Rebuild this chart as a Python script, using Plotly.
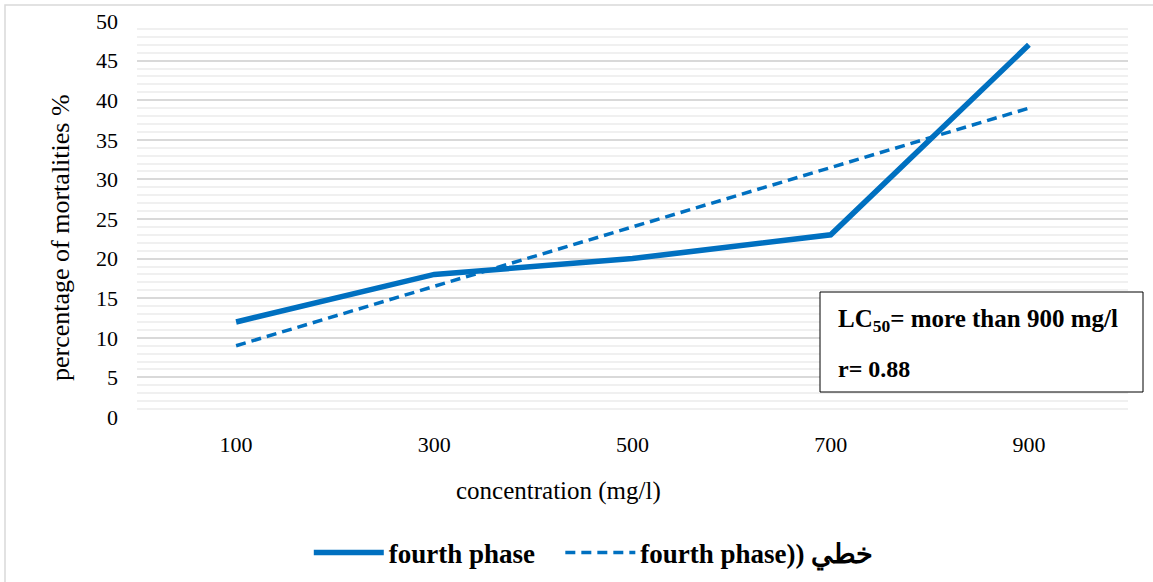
import plotly.graph_objects as go

categories = ["100", "300", "500", "700", "900"]
mortality = [12, 18, 20, 23, 47]
trend = [9, 16.5, 24, 31.5, 39]
y_ticks = [0, 5, 10, 15, 20, 25, 30, 35, 40, 45, 50]

BLUE = "#0070C0"
FONT = "Liberation Serif"

fig = go.Figure()
fig.add_trace(go.Scatter(
    x=categories, y=mortality, mode="lines", name="<b>fourth phase</b>\u00a0\u00a0\u00a0",
    line=dict(color=BLUE, width=5.5)))
fig.add_trace(go.Scatter(
    x=categories, y=trend, mode="lines", name="<b>fourth phase)) خطي</b>",
    line=dict(color=BLUE, width=3.5, dash="10px,6px")))

fig.update_layout(
    width=1153, height=582,
    margin=dict(l=137, r=25, t=21, b=165, autoexpand=False),
    paper_bgcolor="white", plot_bgcolor="white",
    font=dict(family=FONT, size=22, color="black"),
    showlegend=True,
    legend=dict(orientation="h", xref="container", yref="container",
                x=0.515, xanchor="center", y=(582 - 553) / 582, yanchor="middle",
                font=dict(family=FONT, size=27, color="black"), itemwidth=70,
                traceorder="normal"),
    xaxis=dict(type="category", range=[-0.5, 4.5], showgrid=False, showline=False,
               zeroline=False, ticks="", ticklabelstandoff=12),
    yaxis=dict(range=[0, 50], tickvals=y_ticks, showgrid=True, gridcolor="#D9D9D9",
               gridwidth=1.5, zeroline=False, showline=False, ticks="",
               ticklabelstandoff=18,
               minor=dict(dtick=1, showgrid=True, gridcolor="#F0F0F0", gridwidth=1.5)),
)

# axis titles (Excel-style positions)
fig.add_annotation(xref="paper", yref="paper", x=(558 - 137) / 991, y=(417 - 491) / 396,
                   xanchor="center", yanchor="middle", showarrow=False,
                   text="concentration (mg/l)", font=dict(family=FONT, size=25, color="black"))
fig.add_annotation(xref="paper", yref="paper", x=(60 - 137) / 991, y=(417 - 238) / 396,
                   xanchor="center", yanchor="middle", showarrow=False, textangle=-90,
                   text="percentage of mortalities %", font=dict(family=FONT, size=26, color="black"))

# outer chart border
fig.add_shape(type="rect", xref="paper", yref="paper",
              x0=(5 - 137) / 991, x1=(1170 - 137) / 991,
              y0=(417 - 600) / 396, y1=(417 - 5) / 396,
              line=dict(color="#D9D9D9", width=1.5), layer="below")

# annotation box
fig.add_shape(type="rect", xref="paper", yref="paper",
              x0=(820 - 137) / 991, x1=(1143 - 137) / 991,
              y0=(417 - 392) / 396, y1=(417 - 292) / 396,
              line=dict(color="black", width=1), fillcolor="white")
fig.add_annotation(xref="paper", yref="paper", x=(836 - 137) / 991, y=(417 - 320) / 396,
                   xanchor="left", yanchor="middle", showarrow=False,
                   text="<b>LC<sub>50</sub>= more than 900 mg/l</b>",
                   font=dict(family=FONT, size=25, color="black"))
fig.add_annotation(xref="paper", yref="paper", x=(836 - 137) / 991, y=(417 - 369) / 396,
                   xanchor="left", yanchor="middle", showarrow=False,
                   text="<b>r= 0.88</b>",
                   font=dict(family=FONT, size=24, color="black"))

fig.write_html("out.html", config={"displayModeBar": False},
               post_script="document.body.style.margin='0px';")
